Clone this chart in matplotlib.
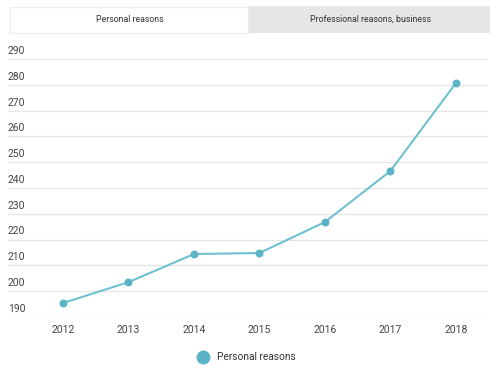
import matplotlib.pyplot as plt
from matplotlib.patches import Rectangle
from matplotlib.transforms import blended_transform_factory

plt.rcParams['font.family'] = ['Roboto', 'DejaVu Sans']

years = [2012, 2013, 2014, 2015, 2016, 2017, 2018]
personal = [195.4, 203.5, 214.4, 214.8, 226.8, 246.6, 280.7]
y_ticks = [190, 200, 210, 220, 230, 240, 250, 260, 270, 280, 290]
tabs = ['Personal reasons', 'Professional reasons, business']

line_col = '#6fc0d0'
dot_col = '#5ab4c6'

fig = plt.figure(figsize=(5, 3.69), dpi=100)
ax = fig.add_axes([0.016, 0.141, 0.96, 0.699])

ax.plot(years, personal, color=line_col, lw=1.5, zorder=3)
ax.scatter(years, personal, s=22, color=dot_col, zorder=4)

ax.set_xlim(2012 - 0.84, 2018 + 0.49)
ax.set_ylim(190, 290)
ax.set_yticks(y_ticks)
ax.grid(axis='y', color='#e6e6e6', lw=0.9)
ax.set_axisbelow(True)
ax.tick_params(axis='y', length=0, labelleft=False)
ax.tick_params(axis='x', length=0, labelsize=7.5, labelcolor='#444444', pad=6)
ax.set_xticks(years)
for s in ax.spines.values():
    s.set_visible(False)

tr = blended_transform_factory(ax.transAxes, ax.transData)
for v in y_ticks:
    ax.text(0.0, v + 1.2, str(v), transform=tr, ha='left', va='bottom',
            fontsize=7.5, color='#444444')

# tabs
fig.patches.append(Rectangle((248 / 500, 1 - 33 / 369), 242 / 500, 27 / 369,
                             transform=fig.transFigure, facecolor='#e6e6e6',
                             edgecolor='none'))
fig.patches.append(Rectangle((10 / 500, 1 - 33 / 369), 238 / 500, 26 / 369,
                             transform=fig.transFigure, facecolor='white',
                             edgecolor='#ececec', lw=0.8))
fig.text(130 / 500, 1 - 19.5 / 369, tabs[0], ha='center', va='center',
         fontsize=6.3, color='#333333')
fig.text(370 / 500, 1 - 19.5 / 369, tabs[1], ha='center', va='center',
         fontsize=6.3, color='#333333')

# legend
fig.lines.append(plt.Line2D([203 / 500], [1 - 357 / 369], marker='o',
                            markersize=9, color=dot_col, ls='none',
                            transform=fig.transFigure))
fig.text(217 / 500, 1 - 357 / 369, 'Personal reasons', ha='left', va='center',
         fontsize=7.3, color='#333333')

fig.savefig('out.png', dpi=100)
